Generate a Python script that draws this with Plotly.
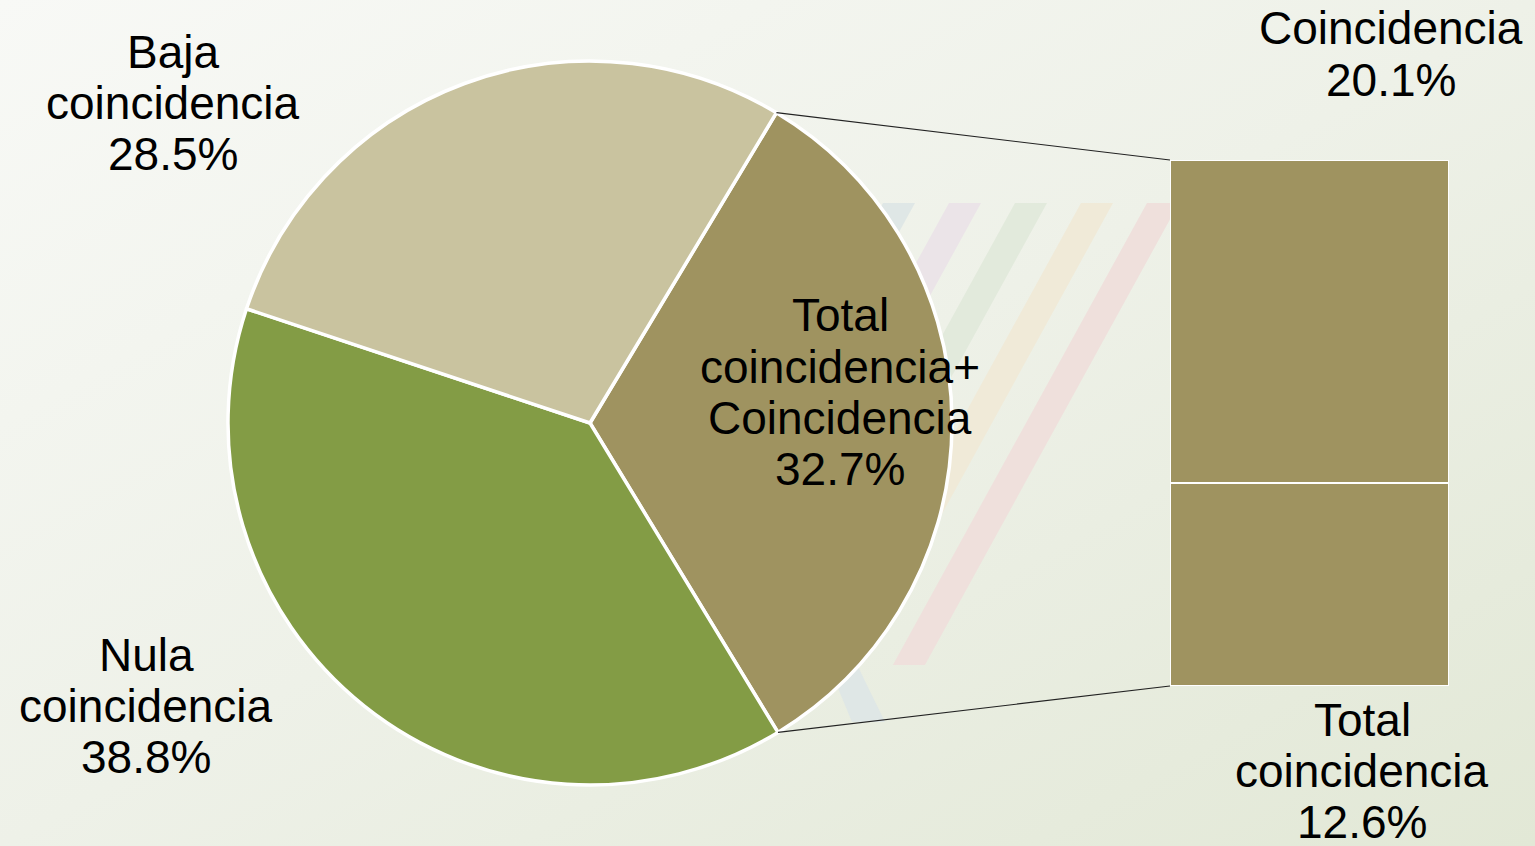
import math
import base64
import plotly.graph_objects as go

# ---------------- data ----------------
pie_labels = ["Total\ncoincidencia+\nCoincidencia", "Nula\ncoincidencia", "Baja\ncoincidencia"]
pie_values = [32.7, 38.8, 28.5]
pie_colors = ["#9F9360", "#839C45", "#C9C39F"]

bar_labels = ["Total\ncoincidencia", "Coincidencia"]   # bottom -> top
bar_values = [12.6, 20.1]
bar_color = "#9F9360"

# ---------------- layout constants ----------------
W, H = 1535, 846
FONT = "Liberation Sans, Arial, sans-serif"
FS = 46
LINE = 51
rotation = 31
cx, cy, r = 590, 423, 362
bar_x0, bar_x1, bar_top, bar_bot = 1170, 1449, 160, 686

def px(x):
    return x / W

def py(y):
    return 1 - y / H

fig = go.Figure()

fig.add_trace(go.Pie(
    labels=[l.replace("\n", " ") for l in pie_labels],
    values=pie_values,
    sort=False,
    direction="clockwise",
    rotation=rotation,
    marker=dict(colors=pie_colors, line=dict(color="white", width=3.5)),
    textinfo="none",
    hoverinfo="label+percent",
    domain=dict(x=[px(cx - r), px(cx + r)], y=[py(cy + r), py(cy - r)]),
    showlegend=False,
))

for lab, val in zip(bar_labels, bar_values):
    fig.add_trace(go.Bar(
        x=[0], y=[val], width=1,
        name=lab.replace("\n", " "),
        marker=dict(color=bar_color, line=dict(color="white", width=2)),
        xaxis="x", yaxis="y", showlegend=False,
        hovertemplate="%{y}%<extra>" + lab.replace("\n", " ") + "</extra>",
    ))

fig.update_layout(
    width=W, height=H,
    margin=dict(l=0, r=0, t=0, b=0),
    barmode="stack",
    paper_bgcolor="#EEF1E8",
    plot_bgcolor="rgba(0,0,0,0)",
    xaxis=dict(domain=[px(bar_x0), px(bar_x1)], range=[-0.5, 0.5], visible=False, fixedrange=True),
    yaxis=dict(domain=[py(bar_bot), py(bar_top)], range=[0, sum(bar_values)], visible=False, fixedrange=True),
)

# background gradient
svg = (
    '<svg xmlns="http://www.w3.org/2000/svg" width="1535" height="846">'
    '<defs><linearGradient id="g" x1="0" y1="0" x2="1" y2="1">'
    '<stop offset="0" stop-color="#F8F9F6"/><stop offset="0.5" stop-color="#EEF1E8"/>'
    '<stop offset="1" stop-color="#E2E8D6"/></linearGradient></defs>'
    '<rect width="1535" height="846" fill="url(#g)"/></svg>'
)
fig.add_layout_image(dict(
    source="data:image/svg+xml;base64," + base64.b64encode(svg.encode()).decode(),
    xref="paper", yref="paper", x=0, y=1, sizex=1, sizey=1,
    sizing="stretch", layer="below",
))

# decorative faint stripes
stripe_cols = ["#DFE7E6", "#EBE4E8", "#E2EADC", "#F0EAD8", "#EFE0DC"]
for i, col in enumerate(stripe_cols):
    xt = 883 + i * 66
    x_b = xt - 0.55 * (665 - 203)
    path = (f"M {px(xt)},{py(203)} L {px(xt + 32)},{py(203)} "
            f"L {px(x_b + 32)},{py(665)} L {px(x_b)},{py(665)} Z")
    fig.add_shape(type="path", path=path, xref="paper", yref="paper",
                  fillcolor=col, line=dict(width=0), layer="below")
fig.add_shape(type="path", xref="paper", yref="paper", layer="below",
              path=f"M {px(818)},{py(640)} L {px(845)},{py(640)} L {px(885)},{py(722)} L {px(852)},{py(722)} Z",
              fillcolor="#DFE7E6", line=dict(width=0))

# connector lines (pie-of-bar)
total = sum(pie_values)
a0 = math.radians(rotation)
a1 = math.radians(rotation + 360 * pie_values[0] / total)
p0 = (cx + r * math.sin(a0), cy - r * math.cos(a0))
p1 = (cx + r * math.sin(a1), cy - r * math.cos(a1))
fig.add_shape(type="line", xref="paper", yref="paper",
              x0=px(p0[0]), y0=py(p0[1]), x1=px(bar_x0), y1=py(bar_top),
              line=dict(color="#222222", width=1.2))
fig.add_shape(type="line", xref="paper", yref="paper",
              x0=px(p1[0]), y0=py(p1[1]), x1=px(bar_x0), y1=py(bar_bot),
              line=dict(color="#222222", width=1.2))

# labels
def add_label(lines, x, yc):
    n = len(lines)
    for i, t in enumerate(lines):
        y = yc + (i - (n - 1) / 2) * LINE
        fig.add_annotation(text=t, x=px(x), y=py(y), xref="paper", yref="paper",
                           xanchor="center", yanchor="middle", showarrow=False,
                           font=dict(family=FONT, size=FS, color="black"))

pie_label_pos = [(840, 392), (146, 706), (173, 103)]
for lab, val, (x, y) in zip(pie_labels, pie_values, pie_label_pos):
    add_label(lab.split("\n") + [f"{val}%"], x, y)

bar_label_pos = [(1362, 771), (1391, 54)]
for lab, val, (x, y) in zip(bar_labels, bar_values, bar_label_pos):
    add_label(lab.split("\n") + [f"{val}%"], x, y)

fig.write_html("out.html", config={"displayModeBar": False},
               post_script="document.body.style.margin='0';")
